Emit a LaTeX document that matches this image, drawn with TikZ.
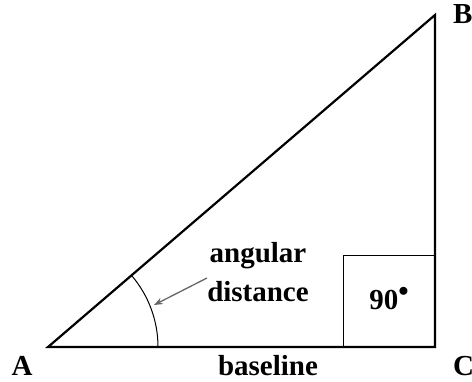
\documentclass[tikz,border=0pt]{standalone}
\usepackage{fontspec}
\setmainfont{Liberation Serif}
\usetikzlibrary{arrows.meta}

\begin{document}
\begin{tikzpicture}[x=1pt,y=-1pt,>=Stealth]
  \useasboundingbox (0,0) rectangle (472,381);
  \tikzset{lbl/.style={font=\bfseries\fontsize{29}{31}\selectfont,inner sep=0pt}}
  \coordinate (A) at (48,347);
  \coordinate (B) at (435,15);
  \coordinate (C) at (435,347);
  \draw[line width=2.2pt,line join=miter] (A) -- (B) -- (C) -- cycle;
  \draw[line width=1pt] (343,347) rectangle (435,255);
  \draw[line width=1pt] (158,347) arc (0:-40.6:110);
  \node[lbl] (angular) at (258,256) {angular};
  \node[lbl] (distance) at (258,292) {distance};
  \coordinate (tail) at (207,278);
  \coordinate (head) at (154,305);
  \draw[->,black!60,line width=1.3pt] (tail) -- (head);
  \node[lbl] (ninety) at (389,299) {90\raisebox{0.45em}{\fontsize{20}{20}\selectfont$\bullet$}};
  \node[lbl] (lA) at (22,366) {A};
  \node[lbl] (lbase) at (268,366) {baseline};
  \node[lbl,anchor=west] (lC) at (453,366) {C};
  \node[lbl,anchor=west] (lB) at (453,14) {B};
\end{tikzpicture}
\end{document}
